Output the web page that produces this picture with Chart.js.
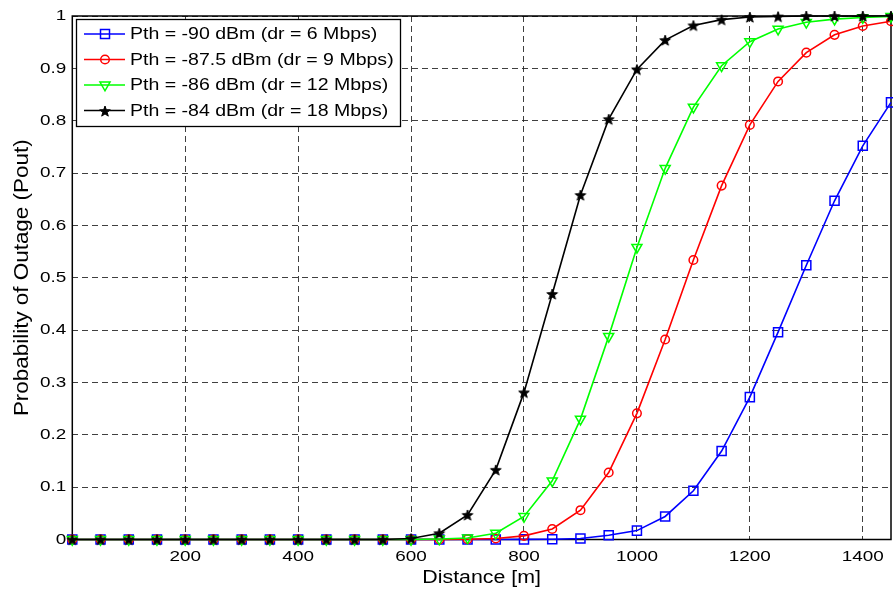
<!DOCTYPE html>
<html>
<head>
<meta charset="utf-8">
<script src="https://cdn.jsdelivr.net/npm/chart.js@4/dist/chart.umd.min.js"></script>
<style>
  html, body { margin: 0; padding: 0; background: #fff; }
  #c { display: block; }
</style>
</head>
<body>
<canvas id="c" width="893" height="592"></canvas>
<script>
// Distance from the access point [m]
const distance = [0, 50, 100, 150, 200, 250, 300, 350, 400, 450, 500, 550, 600, 650, 700,
                  750, 800, 850, 900, 950, 1000, 1050, 1100, 1150, 1200, 1250, 1300, 1350, 1400, 1450];

// Outage probability for each receiver threshold
const poutM90 = [0, 0, 0, 0, 0, 0, 0, 0, 0, 0, 0, 0, 0, 0, 0,
                 0, 0.0002, 0.0006, 0.002, 0.008, 0.017, 0.044, 0.093, 0.169, 0.272, 0.396, 0.524, 0.647, 0.752, 0.835];
const poutM875 = [0, 0, 0, 0, 0, 0, 0, 0, 0, 0, 0, 0, 0, 0, 0.0005,
                  0.002, 0.007, 0.020, 0.056, 0.128, 0.241, 0.382, 0.534, 0.676, 0.792, 0.875, 0.930, 0.964, 0.981, 0.990];
const poutM86 = [0, 0, 0, 0, 0, 0, 0, 0, 0, 0, 0, 0, 0, 0.001, 0.003,
                 0.012, 0.044, 0.112, 0.230, 0.388, 0.558, 0.709, 0.826, 0.905, 0.951, 0.975, 0.988, 0.994, 0.997, 0.999];
const poutM84 = [0, 0, 0, 0, 0, 0, 0, 0, 0, 0, 0, 0, 0.002, 0.012, 0.047,
                 0.133, 0.281, 0.469, 0.658, 0.803, 0.898, 0.954, 0.982, 0.993, 0.998, 0.999, 1, 1, 1, 1];

const seriesLabels = [
  'Pth = -90 dBm (dr = 6 Mbps)',
  'Pth = -87.5 dBm (dr = 9 Mbps)',
  'Pth = -86 dBm (dr = 12 Mbps)',
  'Pth = -84 dBm (dr = 18 Mbps)'
];
const xTickValues = [200, 400, 600, 800, 1000, 1200, 1400];

const FONT = '"Liberation Sans", Arial, Helvetica, sans-serif';

const canvas = document.getElementById('c');
const ctx = canvas.getContext('2d');

// Wide Helvetica-style lettering: widen each string about its anchor point.
const nativeFillText = ctx.fillText.bind(ctx);
ctx.fillText = function (text, x, y, maxWidth) {
  const m = ctx.getTransform();
  const rotated = Math.abs(m.b) > 1e-6 || Math.abs(m.c) > 1e-6;
  const k = rotated ? 1.15 : 1.22;
  ctx.save();
  ctx.translate(x, y);
  ctx.scale(k, 1);
  if (maxWidth === undefined || maxWidth === null) nativeFillText(text, 0, 0);
  else nativeFillText(text, 0, 0, maxWidth / k);
  ctx.restore();
};

// Filled five-point star marker
function makeStar(outer, inner) {
  const size = 16;
  const c = document.createElement('canvas');
  c.width = size; c.height = size;
  const g = c.getContext('2d');
  g.beginPath();
  for (let i = 0; i < 10; i++) {
    const r = i % 2 ? inner : outer;
    const a = -Math.PI / 2 + i * Math.PI / 5;
    const px = size / 2 + r * Math.cos(a);
    const py = size / 2 + 0.6 + r * Math.sin(a);
    if (i === 0) g.moveTo(px, py); else g.lineTo(px, py);
  }
  g.closePath();
  g.fillStyle = '#000';
  g.fill();
  g.lineWidth = 1;
  g.strokeStyle = '#000';
  g.stroke();
  return c;
}
const starImg = makeStar(5.6, 2.3);

const seriesValues = [poutM90, poutM875, poutM86, poutM84];
const seriesColors = ['#0000ff', '#ff0000', '#00ff00', '#000000'];
const markerStyles = [
  { pointStyle: 'rect', pointRadius: 6.4, pointRotation: 0 },
  { pointStyle: 'circle', pointRadius: 4.3, pointRotation: 0 },
  { pointStyle: 'triangle', pointRadius: 5.8, pointRotation: 180 },
  { pointStyle: starImg, pointRadius: 6, pointRotation: 0 }
];

const datasets = seriesValues.map((vals, i) => ({
  label: seriesLabels[i],
  data: distance.map((d, j) => ({ x: d, y: vals[j] })),
  borderColor: seriesColors[i],
  backgroundColor: 'rgba(0,0,0,0)',
  pointBorderColor: seriesColors[i],
  pointBackgroundColor: 'rgba(0,0,0,0)',
  pointBorderWidth: 1.5,
  borderWidth: 1.6,
  tension: 0,
  clip: false,
  order: 3 - i,
  ...markerStyles[i]
}));

// Axes box drawn around the plotting area
const frameBox = {
  id: 'frameBox',
  beforeDatasetsDraw(chart) {
    const { ctx, chartArea: a } = chart;
    ctx.save();
    ctx.strokeStyle = '#000';
    ctx.lineWidth = 1.5;
    ctx.strokeRect(a.left, a.top, a.right - a.left, a.bottom - a.top);
    ctx.restore();
  }
};

function drawMarker(g, style, color, x, y) {
  g.save();
  g.strokeStyle = color;
  g.lineWidth = 1.5;
  g.beginPath();
  if (style === 'rect') {
    const s = 4.5;
    g.rect(x - s, y - s, 2 * s, 2 * s);
    g.stroke();
  } else if (style === 'circle') {
    g.arc(x, y, 4.3, 0, Math.PI * 2);
    g.stroke();
  } else if (style === 'triangle') {
    const r = 5.8;
    g.moveTo(x - r * Math.sin(Math.PI / 3), y - r / 2);
    g.lineTo(x + r * Math.sin(Math.PI / 3), y - r / 2);
    g.lineTo(x, y + r);
    g.closePath();
    g.stroke();
  } else {
    g.drawImage(style, Math.round(x - style.width / 2), Math.round(y - style.height / 2));
  }
  g.restore();
}

// Boxed key in the upper-left corner of the axes
const keyBox = {
  id: 'keyBox',
  afterDatasetsDraw(chart) {
    const g = chart.ctx;
    const left = 76.5, top = 19.5, right = 400.5, bottom = 126.5;
    g.save();
    g.fillStyle = '#fff';
    g.fillRect(left, top, right - left, bottom - top);
    g.strokeStyle = '#000';
    g.lineWidth = 1.3;
    g.strokeRect(left, top, right - left, bottom - top);
    g.font = '16px ' + FONT;
    g.textBaseline = 'middle';
    g.textAlign = 'left';
    chart.data.datasets.forEach((ds, i) => {
      const y = 34 + i * 25.5;
      g.strokeStyle = ds.borderColor;
      g.lineWidth = 1.6;
      g.beginPath();
      g.moveTo(84, y);
      g.lineTo(125, y);
      g.stroke();
      drawMarker(g, ds.pointStyle, ds.borderColor, 105, y);
      g.fillStyle = '#000';
      g.fillText(ds.label, 130, y + 1);
    });
    g.restore();
  }
};

new Chart(ctx, {
  type: 'line',
  data: { datasets },
  options: {
    responsive: false,
    animation: false,
    devicePixelRatio: 1,
    events: [],
    layout: { autoPadding: false, padding: { left: 0, right: 2, top: 16, bottom: 0 } },
    plugins: {
      legend: { display: false },
      tooltip: { enabled: false },
      title: { display: false }
    },
    scales: {
      x: {
        type: 'linear',
        min: 0,
        max: 1450,
        afterBuildTicks(scale) { scale.ticks = xTickValues.map(v => ({ value: v })); },
        afterFit(scale) {
          scale.height = 52.5;
          scale.paddingLeft = 0;
          scale.paddingRight = 0;
        },
        grid: { color: 'rgba(30,30,30,0.85)', lineWidth: 1, drawTicks: false },
        border: { display: false, dash: [6, 4] },
        ticks: {
          padding: 8,
          color: '#000',
          font: { family: FONT, size: 15.5 },
          maxRotation: 0,
          autoSkip: false,
          callback: v => String(v)
        },
        title: {
          display: true,
          text: 'Distance [m]',
          color: '#000',
          font: { family: FONT, size: 17.5 },
          padding: { top: 4, bottom: 3 }
        }
      },
      y: {
        min: 0,
        max: 1,
        afterFit(scale) {
          scale.width = 72.3;
          scale.paddingTop = 0;
          scale.paddingBottom = 0;
        },
        grid: { color: 'rgba(30,30,30,0.85)', lineWidth: 1, drawTicks: false },
        border: { display: false, dash: [6, 4] },
        ticks: {
          stepSize: 0.1,
          padding: 6,
          color: '#000',
          font: { family: FONT, size: 15.5 },
          callback: v => {
            const r = Math.round(v * 10) / 10;
            return (r === 0 || r === 1) ? String(r) : r.toFixed(1);
          }
        },
        title: {
          display: true,
          text: 'Probability of Outage (Pout)',
          color: '#000',
          font: { family: FONT, size: 19.5 },
          padding: { top: 11, bottom: 4 }
        }
      }
    }
  },
  plugins: [frameBox, keyBox]
});
</script>
</body>
</html>
